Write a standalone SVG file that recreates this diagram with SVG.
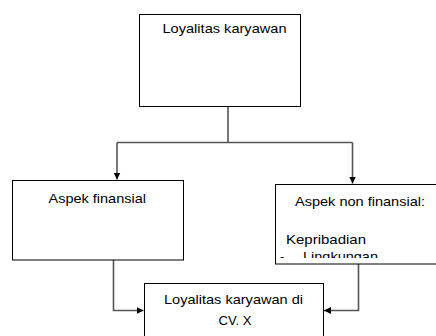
<svg xmlns="http://www.w3.org/2000/svg" width="436" height="336" viewBox="0 0 436 336">
<style>
.box{fill:#fff;stroke:#000;stroke-width:1}
.t{font-family:"Liberation Sans",Arial,sans-serif;font-size:13px;fill:#000}
.c{fill:none;stroke:#555;stroke-width:1.6}
</style>
<defs>
<marker id="ah" viewBox="0 0 10 10" refX="10" refY="5" markerWidth="7" markerHeight="7" markerUnits="userSpaceOnUse" orient="auto">
<path d="M0,0 L10,5 L0,10 Z" fill="#000"/>
</marker>
<clipPath id="clipR"><rect x="276" y="185" width="170" height="73"/></clipPath>
</defs>
<rect width="436" height="336" fill="#fff"/>
<g id="connectors">
<path class="c" d="M228,106.5 V142.5"/>
<path class="c" d="M117,142.5 H352.5"/>
<path class="c" d="M117,142.5 V179.5" marker-end="url(#ah)"/>
<path class="c" d="M352.5,142.5 V183.5" marker-end="url(#ah)"/>
<path class="c" d="M113.5,260 V310.5 H143.5" marker-end="url(#ah)"/>
<path class="c" d="M358.5,264 V310.5 H324" marker-end="url(#ah)"/>
</g>
<g id="n1">
<rect class="box" x="139.5" y="14.5" width="161" height="92"/>
<text class="t" x="162.5" y="33" textLength="124" lengthAdjust="spacingAndGlyphs">Loyalitas karyawan</text>
</g>
<g id="n2">
<rect class="box" x="12.5" y="180.5" width="171" height="79.5"/>
<text class="t" x="48.5" y="203" textLength="97.5" lengthAdjust="spacingAndGlyphs">Aspek finansial</text>
</g>
<g id="n3">
<rect class="box" x="275.5" y="184.5" width="170" height="79.5"/>
<text class="t" x="295" y="206" textLength="130" lengthAdjust="spacingAndGlyphs">Aspek non finansial:</text>
<text class="t" x="286" y="244" textLength="80" lengthAdjust="spacingAndGlyphs">Kepribadian</text>
<g clip-path="url(#clipR)">
<text class="t" x="280" y="261">-</text>
<text class="t" x="303" y="261" textLength="75" lengthAdjust="spacingAndGlyphs">Lingkungan</text>
</g>
</g>
<g id="n4">
<rect class="box" x="144.5" y="283.5" width="179" height="60"/>
<text class="t" x="164" y="304" textLength="139" lengthAdjust="spacingAndGlyphs">Loyalitas karyawan di</text>
<text class="t" x="218.5" y="325" textLength="33" lengthAdjust="spacingAndGlyphs">CV. X</text>
</g>
</svg>
